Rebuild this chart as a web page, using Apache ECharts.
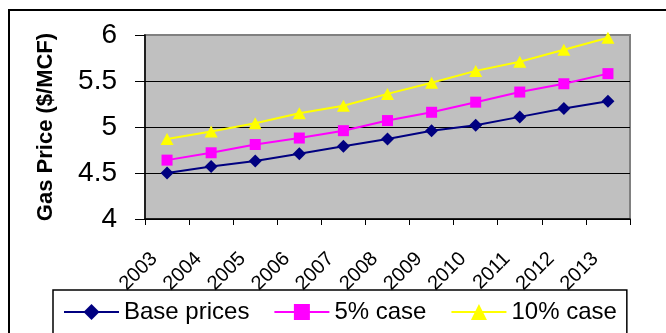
<!DOCTYPE html>
<html>
<head>
<meta charset="utf-8">
<script src="https://cdn.jsdelivr.net/npm/echarts@6/dist/echarts.min.js"></script>
<style>
  html, body { margin: 0; padding: 0; background: #fff; }
  #chart { width: 666px; height: 333px; }
</style>
</head>
<body>
<div id="chart"></div>
<script>
// Gas price projections by year ($/MCF)
const years = ['2003', '2004', '2005', '2006', '2007', '2008', '2009', '2010', '2011', '2012', '2013'];
const basePrices = [4.50, 4.57, 4.63, 4.71, 4.79, 4.87, 4.96, 5.02, 5.11, 5.20, 5.28];
const case5 = [4.64, 4.72, 4.81, 4.88, 4.96, 5.07, 5.16, 5.27, 5.38, 5.47, 5.58];
const case10 = [4.87, 4.95, 5.04, 5.15, 5.23, 5.36, 5.48, 5.61, 5.71, 5.84, 5.97];
const seriesNames = ['Base prices', '5% case', '10% case'];
const yMin = 4, yMax = 6, yStep = 0.5;

const FONT = '"Liberation Sans", Arial, sans-serif';

const chart = echarts.init(document.getElementById('chart'), null, { renderer: 'canvas' });

chart.setOption({
  animation: false,
  backgroundColor: '#fff',
  graphic: [{
    type: 'rect',
    shape: { x: 9, y: 10, width: 700, height: 400 },
    style: { fill: 'none', stroke: '#000', lineWidth: 2 },
    silent: true,
    z: 0
  }],
  grid: {
    left: 145, right: 36, top: 35, bottom: 114,
    show: true,
    backgroundColor: '#C0C0C0',
    borderColor: '#808080',
    borderWidth: 2
  },
  legend: {
    left: 53, top: 290,
    padding: [10, 10, 30, 10],
    borderColor: '#000',
    borderWidth: 1.5,
    itemWidth: 55,
    itemHeight: 20,
    itemGap: 24,
    textStyle: { fontSize: 24, color: '#000', fontFamily: FONT },
    data: seriesNames
  },
  xAxis: {
    type: 'category',
    data: years,
    boundaryGap: true,
    axisLine: { show: true, lineStyle: { color: '#000', width: 1.5 } },
    axisTick: { show: true, length: 6, lineStyle: { color: '#000' } },
    axisLabel: {
      interval: 0,
      rotate: 45,
      margin: 24,
      padding: [0, 18, 0, 0],
      fontSize: 20,
      color: '#000',
      fontFamily: FONT
    },
    splitLine: { show: false }
  },
  yAxis: {
    type: 'value',
    min: yMin, max: yMax, interval: yStep,
    name: 'Gas Price ($/MCF)',
    nameLocation: 'middle',
    nameRotate: 90,
    nameGap: 88,
    nameTextStyle: { fontSize: 22, fontWeight: 'bold', color: '#000', fontFamily: FONT },
    axisLine: { show: true, lineStyle: { color: '#000', width: 1.5 } },
    axisTick: { show: true, length: 10, lineStyle: { color: '#000' } },
    axisLabel: { margin: 28, fontSize: 28, color: '#000', fontFamily: FONT },
    splitLine: { show: true, lineStyle: { color: ['#000', '#000', '#000', '#000', '#808080'], width: 1 } }
  },
  series: [
    {
      name: seriesNames[0], type: 'line', data: basePrices,
      symbol: 'diamond', symbolSize: 13,
      lineStyle: { color: '#000080', width: 2 },
      itemStyle: { color: '#000080' }
    },
    {
      name: seriesNames[1], type: 'line', data: case5,
      symbol: 'rect', symbolSize: 11,
      lineStyle: { color: '#FF00FF', width: 2 },
      itemStyle: { color: '#FF00FF' }
    },
    {
      name: seriesNames[2], type: 'line', data: case10,
      symbol: 'triangle', symbolSize: [13, 12],
      lineStyle: { color: '#FFFF00', width: 2 },
      itemStyle: { color: '#FFFF00' }
    }
  ]
});
</script>
</body>
</html>
